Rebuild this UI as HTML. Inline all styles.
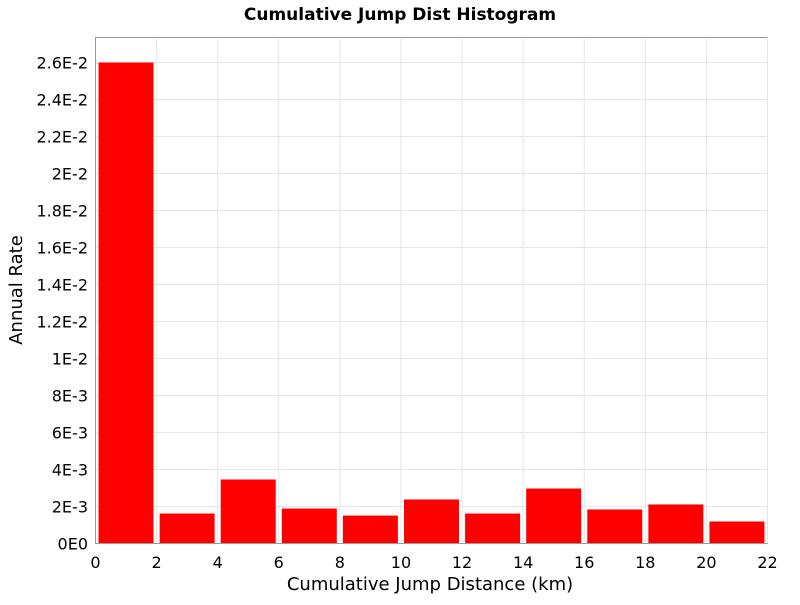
<!DOCTYPE html>
<html><head><meta charset="utf-8"><style>
body{margin:0;background:#fff;}
text{font-family:"DejaVu Sans","Liberation Sans",sans-serif;}
</style></head><body>
<svg id="chart" width="800" height="600" xmlns="http://www.w3.org/2000/svg">
<text x="400" y="20" text-anchor="middle" font-size="17" font-weight="bold">Cumulative Jump Dist Histogram</text>
<rect x="95.5" y="37.5" width="672" height="506" fill="#fff" stroke="#999"/>
<g id="grid"></g>
<g id="bars"></g>
<g id="axes"></g>
<text x="430" y="590" text-anchor="middle" font-size="18">Cumulative Jump Distance (km)</text>
<text transform="translate(22,290) rotate(-90)" text-anchor="middle" font-size="18">Annual Rate</text>
</svg>
<script>
const binStarts=[0,2,4,6,8,10,12,14,16,18,20];
const rates=[0.0260,0.00162,0.00346,0.00189,0.00151,0.00238,0.00162,0.00297,0.00184,0.00211,0.00119];
const xTicks=[0,2,4,6,8,10,12,14,16,18,20,22];
const yTicks=[0,0.002,0.004,0.006,0.008,0.010,0.012,0.014,0.016,0.018,0.020,0.022,0.024,0.026];
const yLabels=["0E0","2E-3","4E-3","6E-3","8E-3","1E-2","1.2E-2","1.4E-2","1.6E-2","1.8E-2","2E-2","2.2E-2","2.4E-2","2.6E-2"];
const NS="http://www.w3.org/2000/svg";
const X0=95.5,X1=767.5,Y0=543.5,YT=37.5;
const xs=v=>X0+v/22*(X1-X0);
const ys=v=>Y0-v/0.002*37;
function mk(t,a){const e=document.createElementNS(NS,t);for(const k in a)e.setAttribute(k,a[k]);return e;}
const grid=document.getElementById('grid'),bars=document.getElementById('bars'),axes=document.getElementById('axes');
xTicks.forEach((t,i)=>{
  const l=mk('line',{x1:xs(t),x2:xs(t),y1:YT,y2:Y0,stroke:'#e6e6e6'});
  
  
  grid.appendChild(l);
  const tx=mk('text',{x:xs(t),y:568,'text-anchor':'middle','font-size':'16'});
  tx.textContent=t;
  
  
  axes.appendChild(tx);
});
yTicks.forEach((t,i)=>{
  const l=mk('line',{x1:X0,x2:X1,y1:ys(t),y2:ys(t),stroke:'#e6e6e6'});
  
  
  grid.appendChild(l);
  const tx=mk('text',{x:88,y:ys(t)+6,'text-anchor':'end','font-size':'16'});
  tx.textContent=yLabels[i];
  
  
  axes.appendChild(tx);
});
binStarts.forEach((b,i)=>{
  const x1=Math.max(xs(b+0.1),X0+1.5),x2=xs(b+1.9);
  const r=mk('rect',{x:x1,y:ys(rates[i]),width:x2-x1,height:Y0-ys(rates[i]),fill:'#ff0000'});
  
  
  bars.appendChild(r);
});
const ax=mk('path',{d:`M${X0} ${YT}V${Y0}H${X1}`,stroke:'#999',fill:'none'});


axes.appendChild(ax);
</script>
</body></html>
